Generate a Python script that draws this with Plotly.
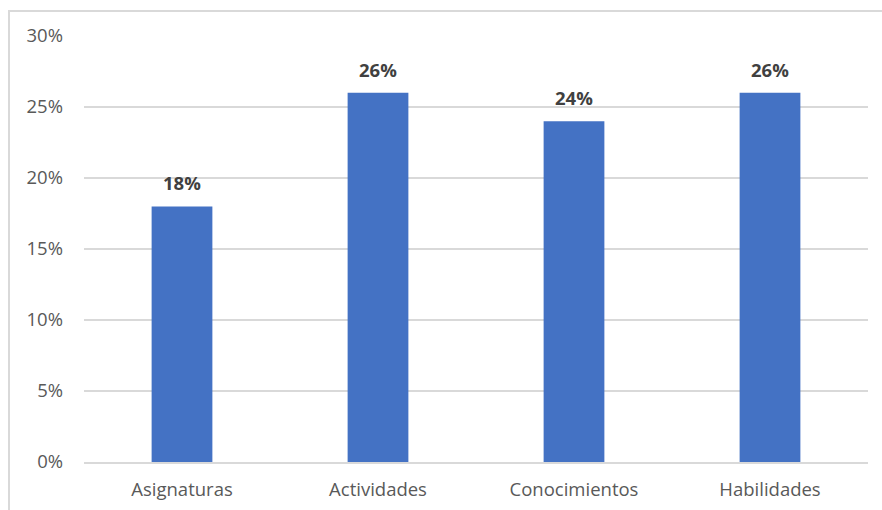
import plotly.graph_objects as go

categories = ["Asignaturas", "Actividades", "Conocimientos", "Habilidades"]
values = [0.18, 0.26, 0.24, 0.26]
labels = ["18%", "26%", "24%", "26%"]
y_ticks = [0, 0.05, 0.10, 0.15, 0.20, 0.25, 0.30]
y_tick_labels = ["0%", "5%", "10%", "15%", "20%", "25%", "30%"]

W, H = 882, 510
ml, mr, mt, mb = 84, 14, 36, 48
pw, ph = W - ml - mr, H - mt - mb
FONT = "Open Sans, Noto Sans, sans-serif"

fig = go.Figure()
fig.add_trace(go.Bar(
    x=categories, y=values, width=0.31,
    marker=dict(color="#4472C4", line=dict(width=0)),
    hoverinfo="skip",
))

for c, v, t in zip(categories, values, labels):
    fig.add_annotation(x=c, y=v, text=f"<b>{t}</b>", showarrow=False,
                       yanchor="bottom", yshift=9,
                       font=dict(family=FONT, size=18.5, color="#404040"))

# outer chart border
fig.add_shape(type="rect", xref="paper", yref="paper",
              x0=(9 - ml) / pw, x1=(W + 10 - ml) / pw,
              y0=-(mb + 10) / ph, y1=1 + (mt - 11) / ph,
              line=dict(color="#d9d9d9", width=2), fillcolor="rgba(0,0,0,0)", layer="below")

fig.update_layout(
    width=W, height=H,
    margin=dict(l=ml, r=mr, t=mt, b=mb),
    paper_bgcolor="white", plot_bgcolor="white",
    showlegend=False,
    font=dict(family=FONT, size=18.5, color="#595959"),
)
fig.update_xaxes(showgrid=False, showline=True, linecolor="#d9d9d9", linewidth=1.5,
                 ticks="", tickfont=dict(size=18.5, color="#595959"), ticklabelstandoff=10,
                 automargin=False)
fig.update_yaxes(range=[0, 0.30], tickvals=y_ticks, ticktext=y_tick_labels,
                 showgrid=True, gridcolor="#d9d9d9", gridwidth=1.5, zeroline=False,
                 showline=False, ticks="", tickfont=dict(size=18.5, color="#595959"),
                 ticklabelstandoff=20, automargin=False)

fig.write_html("out.html")
